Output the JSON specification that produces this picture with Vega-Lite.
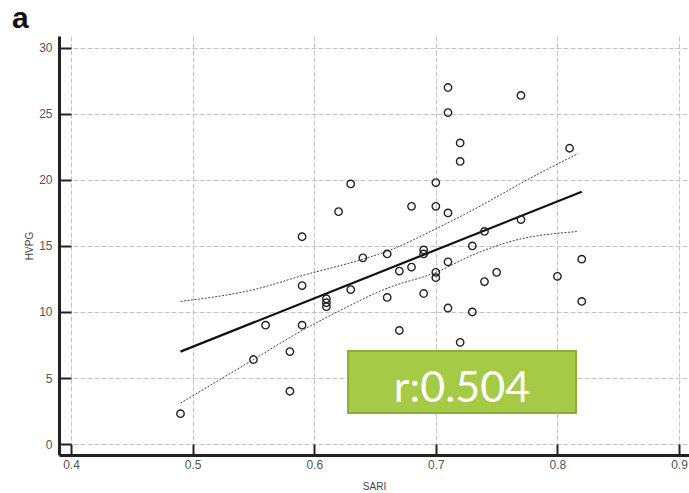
{
  "$schema": "https://vega.github.io/schema/vega-lite/v6.json",
  "width": 630,
  "height": 419,
  "autosize": "none",
  "padding": {"left": 59, "top": 36, "right": 0, "bottom": 38},
  "background": "white",
  "title": {"text": "a", "anchor": "start", "frame": "group", "dx": -47, "dy": 32, "offset": 10, "fontSize": 30, "fontWeight": "bold", "font": "Liberation Sans", "color": "#111", "baseline": "alphabetic"},
  "config": {
    "view": {"stroke": null},
    "axis": {
      "domainColor": "#222", "domainWidth": 3,
      "tickColor": "#222", "tickWidth": 2,
      "gridColor": "#b5b5b5", "gridDash": [5, 2], "gridWidth": 0.8,
      "labelFont": "Liberation Sans", "labelFontSize": 12, "labelColor": "#555",
      "titleFont": "Liberation Sans", "titleFontSize": 10, "titleFontWeight": "normal", "titleColor": "#444"
    }
  },
  "datasets": {
    "points": [
      {"SARI": 0.49, "HVPG": 2.3}, {"SARI": 0.55, "HVPG": 6.4}, {"SARI": 0.56, "HVPG": 9.0},
      {"SARI": 0.58, "HVPG": 4.0}, {"SARI": 0.58, "HVPG": 7.0}, {"SARI": 0.59, "HVPG": 15.7},
      {"SARI": 0.59, "HVPG": 12.0}, {"SARI": 0.59, "HVPG": 9.0}, {"SARI": 0.61, "HVPG": 11.0},
      {"SARI": 0.61, "HVPG": 10.7}, {"SARI": 0.61, "HVPG": 10.4}, {"SARI": 0.62, "HVPG": 17.6},
      {"SARI": 0.63, "HVPG": 11.7}, {"SARI": 0.63, "HVPG": 19.7}, {"SARI": 0.64, "HVPG": 14.1},
      {"SARI": 0.66, "HVPG": 14.4}, {"SARI": 0.66, "HVPG": 11.1}, {"SARI": 0.67, "HVPG": 13.1},
      {"SARI": 0.67, "HVPG": 8.6}, {"SARI": 0.68, "HVPG": 18.0}, {"SARI": 0.68, "HVPG": 13.4},
      {"SARI": 0.69, "HVPG": 14.7}, {"SARI": 0.69, "HVPG": 14.4}, {"SARI": 0.69, "HVPG": 11.4},
      {"SARI": 0.70, "HVPG": 19.8}, {"SARI": 0.70, "HVPG": 18.0}, {"SARI": 0.70, "HVPG": 13.0},
      {"SARI": 0.70, "HVPG": 12.6}, {"SARI": 0.71, "HVPG": 27.0}, {"SARI": 0.71, "HVPG": 25.1},
      {"SARI": 0.71, "HVPG": 17.5}, {"SARI": 0.71, "HVPG": 13.8}, {"SARI": 0.71, "HVPG": 10.3},
      {"SARI": 0.72, "HVPG": 22.8}, {"SARI": 0.72, "HVPG": 21.4}, {"SARI": 0.72, "HVPG": 7.7},
      {"SARI": 0.73, "HVPG": 15.0}, {"SARI": 0.73, "HVPG": 10.0}, {"SARI": 0.74, "HVPG": 16.1},
      {"SARI": 0.74, "HVPG": 12.3}, {"SARI": 0.75, "HVPG": 13.0}, {"SARI": 0.77, "HVPG": 26.4},
      {"SARI": 0.77, "HVPG": 17.0}, {"SARI": 0.80, "HVPG": 12.7}, {"SARI": 0.81, "HVPG": 22.4},
      {"SARI": 0.82, "HVPG": 14.0}, {"SARI": 0.82, "HVPG": 10.8}
    ],
    "fit": [{"SARI": 0.49, "HVPG": 7.0}, {"SARI": 0.82, "HVPG": 19.1}],
    "bands": [
      {"band": "upper", "SARI": 0.49, "HVPG": 10.8}, {"band": "upper", "SARI": 0.555, "HVPG": 11.8},
      {"band": "upper", "SARI": 0.588, "HVPG": 12.7}, {"band": "upper", "SARI": 0.64, "HVPG": 14.0},
      {"band": "upper", "SARI": 0.66, "HVPG": 14.6}, {"band": "upper", "SARI": 0.70, "HVPG": 16.3},
      {"band": "upper", "SARI": 0.734, "HVPG": 17.9}, {"band": "upper", "SARI": 0.775, "HVPG": 20.0},
      {"band": "upper", "SARI": 0.817, "HVPG": 22.0},
      {"band": "lower", "SARI": 0.49, "HVPG": 3.1}, {"band": "lower", "SARI": 0.55, "HVPG": 6.4},
      {"band": "lower", "SARI": 0.59, "HVPG": 8.6}, {"band": "lower", "SARI": 0.621, "HVPG": 10.1},
      {"band": "lower", "SARI": 0.66, "HVPG": 11.8}, {"band": "lower", "SARI": 0.70, "HVPG": 13.0},
      {"band": "lower", "SARI": 0.73, "HVPG": 14.3}, {"band": "lower", "SARI": 0.76, "HVPG": 15.3},
      {"band": "lower", "SARI": 0.817, "HVPG": 16.1}
    ],
    "box": [{"x1": 0.6278, "x2": 0.8153, "y1": 7.05, "y2": 2.35, "tx": 0.7215, "ty": 3.15, "label": "r:0.504"}]
  },
  "encoding": {
    "x": {"type": "quantitative"},
    "y": {"type": "quantitative"}
  },
  "layer": [
    {
      "data": {"name": "bands"},
      "mark": {"type": "line", "color": "#444", "strokeWidth": 1, "strokeDash": [2, 1.5], "interpolate": "monotone"},
      "encoding": {
        "x": {"field": "SARI", "type": "quantitative",
          "scale": {"domain": [0.3901, 0.9082], "nice": false, "zero": false},
          "axis": {"title": "SARI", "values": [0.4, 0.5, 0.6, 0.7, 0.8, 0.9], "format": ".1f", "tickSize": -11, "labelPadding": 15, "titlePadding": 11}},
        "y": {"field": "HVPG", "type": "quantitative",
          "scale": {"domain": [-0.83, 30.9], "nice": false, "zero": false},
          "axis": {"title": "HVPG", "values": [0, 5, 10, 15, 20, 25, 30], "tickSize": -12, "labelPadding": 19, "titlePadding": 4}},
        "detail": {"field": "band"}
      }
    },
    {
      "data": {"name": "fit"},
      "mark": {"type": "line", "color": "#111", "strokeWidth": 2.2},
      "encoding": {
        "x": {"field": "SARI", "type": "quantitative"},
        "y": {"field": "HVPG", "type": "quantitative"}
      }
    },
    {
      "data": {"name": "points"},
      "mark": {"type": "point", "shape": "circle", "filled": false, "stroke": "#222", "strokeWidth": 1.4, "size": 55, "opacity": 1},
      "encoding": {
        "x": {"field": "SARI", "type": "quantitative"},
        "y": {"field": "HVPG", "type": "quantitative"}
      }
    },
    {
      "data": {"name": "box"},
      "mark": {"type": "rect", "fill": "#a5ca45", "stroke": "#8aae37", "strokeWidth": 2},
      "encoding": {
        "x": {"field": "x1", "type": "quantitative"},
        "x2": {"field": "x2"},
        "y": {"field": "y1", "type": "quantitative"},
        "y2": {"field": "y2"}
      }
    },
    {
      "data": {"name": "box"},
      "mark": {"type": "text", "color": "white", "font": "Lato", "fontSize": 43, "align": "center", "baseline": "alphabetic"},
      "encoding": {
        "x": {"field": "tx", "type": "quantitative"},
        "y": {"field": "ty", "type": "quantitative"},
        "text": {"field": "label"}
      }
    }
  ]
}
